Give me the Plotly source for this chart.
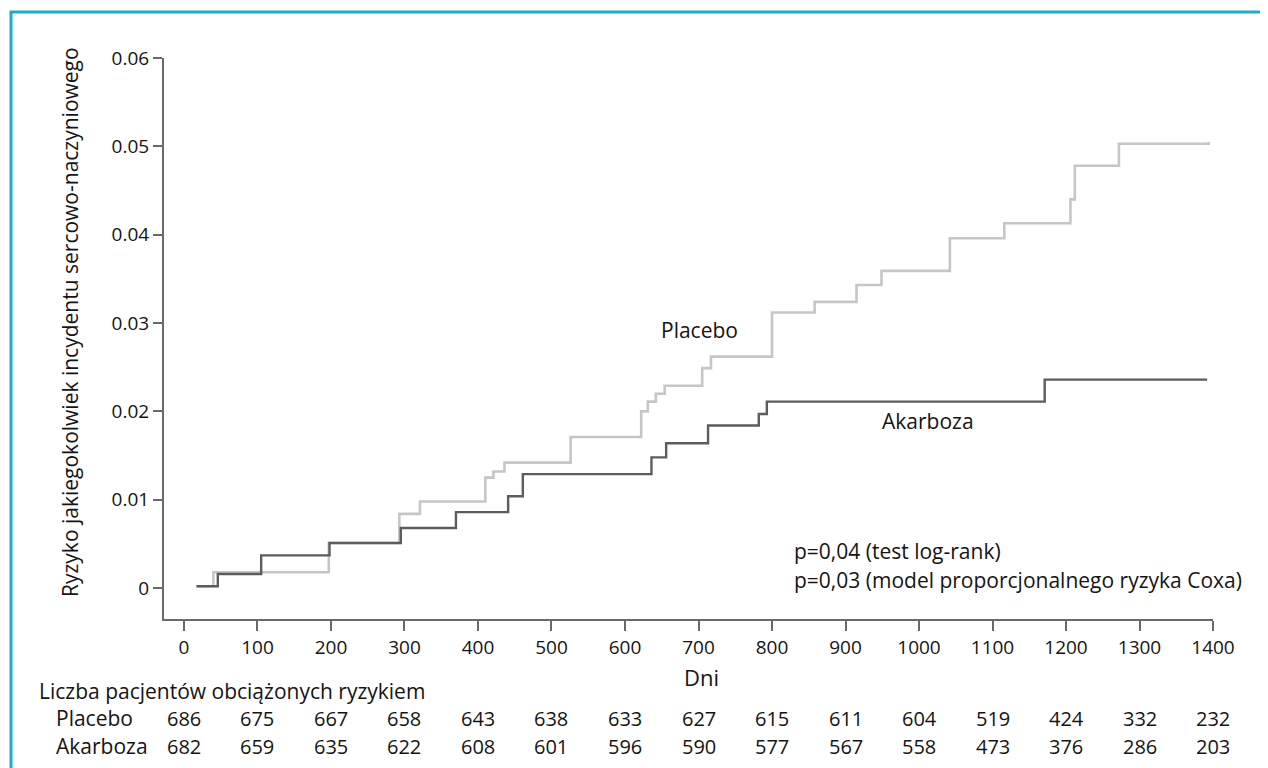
import plotly.graph_objects as go

# ---- data (days, cumulative risk) ----
placebo_days = [17, 40, 197, 293, 321, 410, 421, 436, 526, 622, 631, 642, 654, 705, 717,
                800, 858, 915, 949, 1042, 1116, 1206, 1212, 1272, 1394]
placebo_risk = [0.0002, 0.0018, 0.0051, 0.0084, 0.0098, 0.0125, 0.0132, 0.0142, 0.0171, 0.0200,
                0.0211, 0.0220, 0.0229, 0.0249, 0.0262, 0.0312, 0.0324, 0.0343, 0.0359, 0.0396,
                0.0413, 0.0440, 0.0478, 0.0503, 0.0505]

akarboza_days = [17, 46, 105, 198, 295, 370, 441, 461, 636, 656, 713, 782, 793, 1171, 1392]
akarboza_risk = [0.0002, 0.0016, 0.0037, 0.0051, 0.0068, 0.0086, 0.0104, 0.0129, 0.0148, 0.0164,
                 0.0184, 0.0197, 0.0211, 0.0236, 0.0236]

x_ticks = [0, 100, 200, 300, 400, 500, 600, 700, 800, 900, 1000, 1100, 1200, 1300, 1400]
y_ticks = [0, 0.01, 0.02, 0.03, 0.04, 0.05, 0.06]
y_ticktext = ["0", "0.01", "0.02", "0.03", "0.04", "0.05", "0.06"]

at_risk_placebo = [686, 675, 667, 658, 643, 638, 633, 627, 615, 611, 604, 519, 424, 332, 232]
at_risk_akarboza = [682, 659, 635, 622, 608, 601, 596, 590, 577, 567, 558, 473, 376, 286, 203]

FONT = "Open Sans"
FS_TXT = 21
FS_NUM = 19
TXT = "#141414"

OFF = 8  # page body margin
W, H = 1268 - OFF, 768 - OFF
L, T = 164 - OFF, 58 - OFF
R = W - (1213 - OFF)
B = H - (619 - OFF)
PW, PH = W - L - R, H - T - B


def px(xp):
    return (xp - OFF - L) / PW


def py(yp):
    return (H - B - (yp - OFF)) / PH


fig = go.Figure()
fig.add_trace(go.Scatter(x=placebo_days, y=placebo_risk, mode="lines", line_shape="hv",
                         line=dict(color="#c6c6c6", width=2.6), name="Placebo",
                         showlegend=False))
fig.add_trace(go.Scatter(x=akarboza_days, y=akarboza_risk, mode="lines", line_shape="hv",
                         line=dict(color="#5c5c5c", width=2.4), name="Akarboza",
                         showlegend=False))


def tfont(size=FS_TXT):
    return dict(family=FONT, size=size, color=TXT)


ann = []
ann.append(dict(x=701, y=0.0292, xref="x", yref="y", text="Placebo", showarrow=False,
                xanchor="center", yanchor="middle", font=tfont()))
ann.append(dict(x=1012, y=0.0189, xref="x", yref="y", text="Akarboza", showarrow=False,
                xanchor="center", yanchor="middle", font=tfont()))
ann.append(dict(x=px(792), y=py(551), xref="paper", yref="paper", text="p=0,04 (test log-rank)",
                showarrow=False, xanchor="left", yanchor="middle", font=tfont()))
ann.append(dict(x=px(792), y=py(580), xref="paper", yref="paper",
                text="p=0,03 (model proporcjonalnego ryzyka Coxa)",
                showarrow=False, xanchor="left", yanchor="middle", font=tfont()))
ann.append(dict(x=px(701), y=py(677), xref="paper", yref="paper", text="Dni", showarrow=False,
                xanchor="center", yanchor="middle", font=tfont(22)))
ann.append(dict(x=px(70), y=py(322), xref="paper", yref="paper",
                text="Ryzyko jakiegokolwiek incydentu sercowo-naczyniowego",
                textangle=-90, showarrow=False, xanchor="center", yanchor="middle",
                font=tfont()))
ann.append(dict(x=px(37), y=py(691), xref="paper", yref="paper",
                text="Liczba pacjentów obciążonych ryzykiem", xanchor="left", yanchor="middle",
                showarrow=False, font=tfont()))
ann.append(dict(x=px(54), y=py(718), xref="paper", yref="paper", text="Placebo",
                xanchor="left", yanchor="middle", showarrow=False, font=tfont()))
ann.append(dict(x=px(54), y=py(746), xref="paper", yref="paper", text="Akarboza",
                xanchor="left", yanchor="middle", showarrow=False, font=tfont()))
for d, n1, n2 in zip(x_ticks, at_risk_placebo, at_risk_akarboza):
    ann.append(dict(x=d, y=py(718), xref="x", yref="paper", text=str(n1), showarrow=False,
                    xanchor="center", yanchor="middle", font=tfont(20)))
    ann.append(dict(x=d, y=py(746), xref="x", yref="paper", text=str(n2), showarrow=False,
                    xanchor="center", yanchor="middle", font=tfont(20)))

frame = dict(type="rect", xref="paper", yref="paper", x0=px(11), x1=px(1262),
             y0=py(800), y1=py(12), line=dict(color="#1aafc1", width=3), layer="below")

fig.update_layout(
    width=W, height=H, margin=dict(l=L, r=R, t=T, b=B),
    paper_bgcolor="white", plot_bgcolor="white",
    annotations=ann, shapes=[frame],
    xaxis=dict(range=[-27.2, 1400], tickvals=x_ticks, showgrid=False, zeroline=False,
               showline=True, linecolor="#6a6a6a", linewidth=2, ticks="outside",
               ticklen=10, tickwidth=2, tickcolor="#6a6a6a",
               tickfont=tfont(FS_NUM)),
    yaxis=dict(range=[-0.0035, 0.06], tickvals=y_ticks, ticktext=y_ticktext,
               showgrid=False, zeroline=False, showline=True, linecolor="#6a6a6a",
               linewidth=2, ticks="outside", ticklen=9, tickwidth=2, tickcolor="#6a6a6a",
               tickfont=tfont(FS_NUM)),
)

fig.write_html("out.html")
